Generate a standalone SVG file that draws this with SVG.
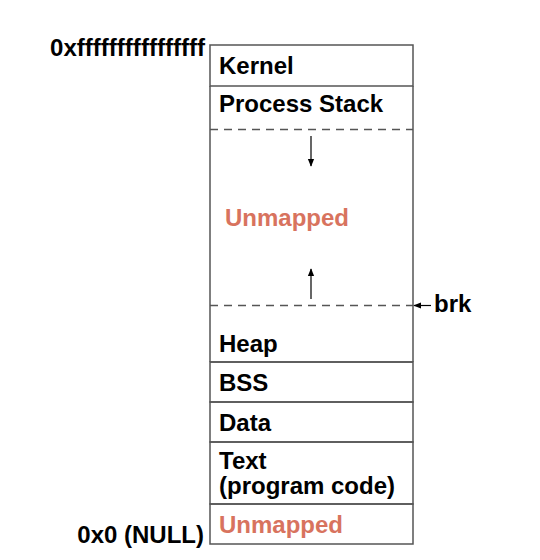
<svg xmlns="http://www.w3.org/2000/svg" width="540" height="560" viewBox="0 0 540 560">
<defs>
<style>
.t{font-family:"Liberation Sans",Arial,sans-serif;font-weight:bold;font-size:24px;fill:#000}
.u{fill:#d8735e}
.b{fill:none;stroke:#555;stroke-width:1.5}
.d{fill:none;stroke:#555;stroke-width:1.5;stroke-dasharray:8,6}
.a{fill:none;stroke:#000;stroke-width:1.2}
</style>
<marker id="ah" viewBox="0 0 10 10" refX="9" refY="5" markerWidth="8" markerHeight="8" orient="auto" markerUnits="userSpaceOnUse">
<path d="M0,1 L10,5 L0,9 z" fill="#000"/>
</marker>
</defs>
<rect width="540" height="560" fill="#fff"/>
<g id="kernel"><rect class="b" x="210" y="45" width="203" height="41"/><text class="t" x="219" y="74">Kernel</text></g>
<g id="stack"><path class="b" d="M210,86 V129 M413,86 V129"/><text class="t" x="219" y="112">Process Stack</text></g>
<g id="unmapped-mid"><path class="b" d="M210,129 V306 M413,129 V306"/><path class="d" d="M210,129.5 H413 M210,305.5 H413"/><text class="t u" x="225" y="226">Unmapped</text></g>
<g id="heap"><path class="b" d="M210,306 V362 M413,306 V362 M210,362 H413"/><text class="t" x="219" y="352">Heap</text></g>
<g id="bss"><rect class="b" x="210" y="362" width="203" height="40"/><text class="t" x="219" y="391">BSS</text></g>
<g id="data"><rect class="b" x="210" y="402" width="203" height="40"/><text class="t" x="219" y="431">Data</text></g>
<g id="text"><rect class="b" x="210" y="442" width="203" height="62"/><text class="t" x="219" y="469">Text</text><text class="t" x="219" y="494">(program code)</text></g>
<g id="unmapped-low"><rect class="b" x="210" y="504" width="203" height="40"/><text class="t u" x="219" y="533">Unmapped</text></g>
<g id="labels">
<text class="t" x="205" y="56" text-anchor="end" textLength="155" lengthAdjust="spacingAndGlyphs">0xffffffffffffffff</text>
<text class="t" x="204" y="543" text-anchor="end">0x0 (NULL)</text>
<text class="t" x="434" y="312">brk</text>
</g>
<g id="connectors">
<line class="a" x1="311" y1="136" x2="311" y2="166" marker-end="url(#ah)"/>
<line class="a" x1="311" y1="299" x2="311" y2="269" marker-end="url(#ah)"/>
<line class="a" x1="431" y1="305.5" x2="414" y2="305.5" marker-end="url(#ah)"/>
</g>
</svg>
